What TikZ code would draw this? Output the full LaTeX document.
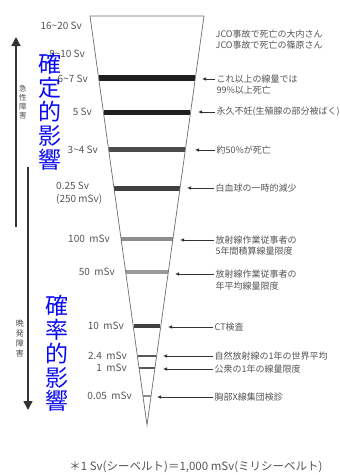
\documentclass[tikz,border=0pt]{standalone}
\usepackage{fontspec}
\setmainfont{Noto Sans CJK JP}
\usetikzlibrary{arrows.meta}
\definecolor{txt}{RGB}{85,85,85}
\definecolor{blu}{RGB}{10,10,245}
\definecolor{edgec}{RGB}{110,110,110}
\newcommand\myband[3]{\draw[line width=#2pt,#3] ({90+0.13936*(#1-16)+0.4},#1) -- ({204-0.13936*(#1-16)-0.4},#1);}
\tikzset{
  edge/.style={draw=edgec,line width=0.7pt,line join=miter},
  ll/.style={anchor=east,inner sep=0pt,text=txt,font=\fontsize{10}{10}\selectfont},
  rl/.style={anchor=west,inner sep=1.5pt,text=txt,font=\fontsize{9}{10}\selectfont},
  arr/.style={draw=black!80,line width=0.9pt,-{Latex[length=4pt,width=3.6pt]}},
  bigarr/.style={draw=black!80,line width=1.6pt,-{Triangle[length=9pt,width=9pt]}},
  vl/.style={text=black!70,align=center,inner sep=0pt},
  bl/.style={text=blu,inner sep=0pt,font=\fontsize{23}{24}\selectfont},
}
\begin{document}
\begin{tikzpicture}[x=1pt,y=-1pt]
\useasboundingbox[fill=white] (0,0) rectangle (340,475);
% funnel
\coordinate (TL) at (90,16);
\coordinate (TR) at (204,16);
\coordinate (AP) at (147,425);
% bands
\myband{78}{6}{black!88}
\myband{112}{5}{black!88}
\myband{149}{5}{black!70}
\myband{188}{5}{black!75}
\myband{239}{3.5}{black!45}
\myband{272}{3.5}{black!40}
\myband{326}{4}{black!75}
\myband{356}{2.8}{black!65}
\myband{368}{2.8}{black!65}
\myband{396}{2}{black!45}
\draw[edge] (TL) -- (TR) -- (AP) -- cycle;
% left labels
\node[ll] (l1) at (82,26) {16\textasciitilde20 Sv};
\node[ll] (l2) at (85,54) {8\textasciitilde10 Sv};
\node[ll] (l3) at (88,79) {6\textasciitilde7 Sv};
\node[ll] (l4) at (92,112) {5 Sv};
\node[ll] (l5) at (98,150) {3\textasciitilde4 Sv};
\node[ll,anchor=west] (l6a) at (56,186) {0.25 Sv};
\node[ll,anchor=west] (l6b) at (56,199) {(250 mSv)};
\node[ll] (l7) at (110,239) {100\ \ mSv};
\node[ll] (l8) at (115,272) {50\ \ mSv};
\node[ll] (l9) at (124,326) {10\ \ mSv};
\node[ll] (l10) at (127,356) {2.4\ \ mSv};
\node[ll] (l11) at (127,368) {1\ \ mSv};
\node[ll] (l12) at (132,396) {0.05\ \ mSv};
% right labels
\node[rl] (r1a) at (214,34) {JCO事故で死亡の大内さん};
\node[rl] (r1b) at (214,45) {JCO事故で死亡の篠原さん};
\node[rl] (r3a) at (215,79) {これ以上の線量では};
\node[rl] (r3b) at (215,90) {99\%以上死亡};
\node[rl] (r4) at (215,112) {永久不妊(生殖腺の部分被ばく)};
\node[rl] (r5) at (215,150) {約50\%が死亡};
\node[rl] (r6) at (214,188) {白血球の一時的減少};
\node[rl] (r7a) at (214,240) {放射線作業従事者の};
\node[rl] (r7b) at (214,251) {5年間積算線量限度};
\node[rl] (r8a) at (214,274) {放射線作業従事者の};
\node[rl] (r8b) at (214,286) {年平均線量限度};
\node[rl] (r9) at (213,327) {CT検査};
\node[rl] (r10) at (213,356) {自然放射線の1年の世界平均};
\node[rl] (r11) at (213,369) {公衆の1年の線量限度};
\node[rl] (r12) at (213,397) {胸部X線集団検診};
% arrow tips
\coordinate (t3) at (202,79);
\coordinate (t4) at (198,112);
\coordinate (t5) at (195,150);
\coordinate (t6) at (187,188);
\coordinate (t7) at (180,239);
\coordinate (t8) at (175,273);
\coordinate (t9) at (168,326);
\coordinate (t10) at (163,356);
\coordinate (t11) at (163,369);
\coordinate (t12) at (157,396);
\draw[arr] (r3a.west) -- (r3a.west -| t3);
\draw[arr] (r4.west) -- (r4.west -| t4);
\draw[arr] (r5.west) -- (r5.west -| t5);
\draw[arr] (r6.west) -- (r6.west -| t6);
\draw[arr] (r7a.west) -- (r7a.west -| t7);
\draw[arr] (r8a.west) -- (r8a.west -| t8);
\draw[arr] (r9.west) -- (r9.west -| t9);
\draw[arr] (r10.west) -- (r10.west -| t10);
\draw[arr] (r11.west) -- (r11.west -| t11);
\draw[arr] (r12.west) -- (r12.west -| t12);
% big arrows
\coordinate (ub) at (16,227);
\coordinate (ut) at (16,37);
\coordinate (db) at (28,167);
\coordinate (dt) at (28,410);
\draw[bigarr] (ub) -- (ut);
\draw[bigarr] (db) -- (dt);
\node[vl,font=\fontsize{7.5}{8.8}\selectfont] (acute) at (23,102) {急\\性\\障\\害};
\node[vl,font=\fontsize{8}{10}\selectfont] (late) at (20,338) {晩\\発\\障\\害};
% blue labels
\node[bl] (b1) at (50,64) {確};
\node[bl] (b2) at (50,88) {定};
\node[bl] (b3) at (50,112) {的};
\node[bl] (b4) at (50,136) {影};
\node[bl] (b5) at (50,160) {響};
\node[bl] (c1) at (57,306) {確};
\node[bl] (c2) at (57,330) {率};
\node[bl] (c3) at (57,354) {的};
\node[bl] (c4) at (57,378) {影};
\node[bl] (c5) at (57,401) {響};
% footnote
\node[text=txt,inner sep=0pt,font=\fontsize{11.5}{12}\selectfont] (foot) at (196,467) {＊1 Sv(シーベルト)＝1,000 mSv(ミリシーベルト)};
\end{tikzpicture}
\end{document}
